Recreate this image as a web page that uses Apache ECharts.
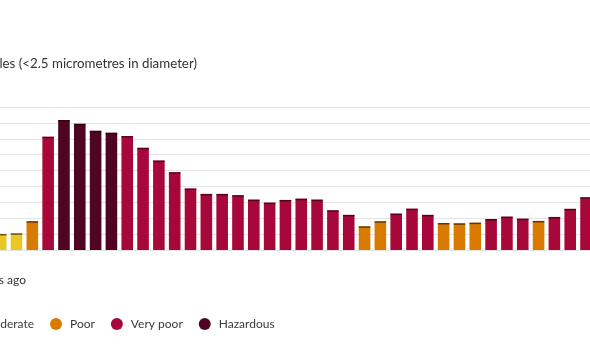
<!DOCTYPE html>
<html>
<head>
<meta charset="utf-8">
<script src="https://cdn.jsdelivr.net/npm/echarts@6/dist/echarts.min.js"></script>
<style>
html, body { margin: 0; padding: 0; background: #fff; }
#chart { width: 590px; height: 354px; }
</style>
</head>
<body>
<div id="chart"></div>
<script>
// hourly PM2.5 readings, oldest first (only the visible part of the chart)
var pm25 = [10.1, 10.5, 18.1, 71.3, 81.8, 79.4, 75.0, 73.8, 71.7, 64.3,
            56.3, 49.0, 38.7, 35.3, 35.3, 34.5, 31.7, 29.8, 31.5, 32.3,
            31.7, 25.0, 22.1, 14.9, 18.1, 22.9, 26.0, 22.1, 17.0, 16.8,
            17.2, 19.5, 21.0, 19.7, 18.3, 20.8, 25.9, 33.2];

var levels = ['Moderate', 'Moderate', 'Poor', 'Very poor', 'Hazardous', 'Hazardous', 'Hazardous', 'Hazardous', 'Very poor', 'Very poor',
              'Very poor', 'Very poor', 'Very poor', 'Very poor', 'Very poor', 'Very poor', 'Very poor', 'Very poor', 'Very poor', 'Very poor',
              'Very poor', 'Very poor', 'Very poor', 'Poor', 'Poor', 'Very poor', 'Very poor', 'Very poor', 'Poor', 'Poor',
              'Poor', 'Very poor', 'Very poor', 'Very poor', 'Poor', 'Very poor', 'Very poor', 'Very poor'];

var levelNames = ['Moderate', 'Poor', 'Very poor', 'Hazardous'];
var levelColors = ['#E9C824', '#D97B00', '#A8073A', '#4F0521'];

var FONT = 'Lato';

function renderBar(params, api) {
	var idx = api.value(0);
	var top = api.coord([idx, api.value(1)]);
	var base = api.coord([idx, 0]);
	var w = api.size([1, 0])[0] * 0.733;
	return {
		type: 'group',
		children: [{
			type: 'rect',
			shape: { x: top[0] - w / 2, y: top[1], width: w, height: base[1] - top[1] },
			style: { fill: api.visual('color') }
		}, {
			type: 'rect',
			shape: { x: top[0] - w / 2, y: top[1], width: w, height: 1.5 },
			style: { fill: 'rgba(30,0,10,0.6)' }
		}]
	};
}

var series = [];
for (var k = 0; k < levelNames.length; k++) {
	var d = [];
	for (var i = 0; i < pm25.length; i++) {
		if (levels[i] == levelNames[k]) d.push([i, pm25[i]]);
	}
	series.push({
		name: levelNames[k],
		type: 'custom',
		renderItem: renderBar,
		clip: false,
		encode: { x: 0, y: 1 },
		itemStyle: { color: levelColors[k] },
		data: d
	});
}

// legend is partly cut off on the left, place it from the measured text width
var ctx = document.createElement('canvas').getContext('2d');
ctx.font = '12px ' + FONT;
var modW = ctx.measureText('Moderate').width;

// chart is cropped on both sides: hour slots are 15.82px wide, first one centred at x=0.68
var slot = 15.82;
var myChart = echarts.init(document.getElementById('chart'));
var option = {
	animation: false,
	grid: { left: 0, right: 0, top: 107, bottom: 104 },
	xAxis: {
		type: 'value',
		min: -0.68 / slot,
		max: (590 - 0.68) / slot,
		axisLine: { show: false },
		axisTick: { show: false },
		axisLabel: { show: false },
		splitLine: { show: false }
	},
	yAxis: {
		type: 'value',
		min: 0,
		max: 90,
		interval: 10,
		axisLabel: { show: false },
		axisLine: { show: false },
		axisTick: { show: false },
		splitLine: { lineStyle: { color: '#e4e4e4', width: 1 } }
	},
	legend: {
		data: levelNames,
		left: 32 - modW - 23,
		top: 313,
		icon: 'circle',
		itemWidth: 18,
		itemHeight: 12,
		itemGap: 16,
		textStyle: { fontFamily: FONT, fontSize: 12, color: '#3a3a3a' }
	},
	graphic: [{
		type: 'text',
		right: 590 - 197,
		top: 57,
		style: {
			text: 'PM2.5 - Fine particles (<2.5 micrometres in diameter)',
			font: '13.3px ' + FONT,
			fill: '#333'
		}
	}, {
		type: 'text',
		right: 590 - 26,
		top: 274,
		style: {
			text: '24 hours ago',
			font: '12px ' + FONT,
			fill: '#333'
		}
	}],
	series: series
};
myChart.setOption(option);
</script>
</body>
</html>
